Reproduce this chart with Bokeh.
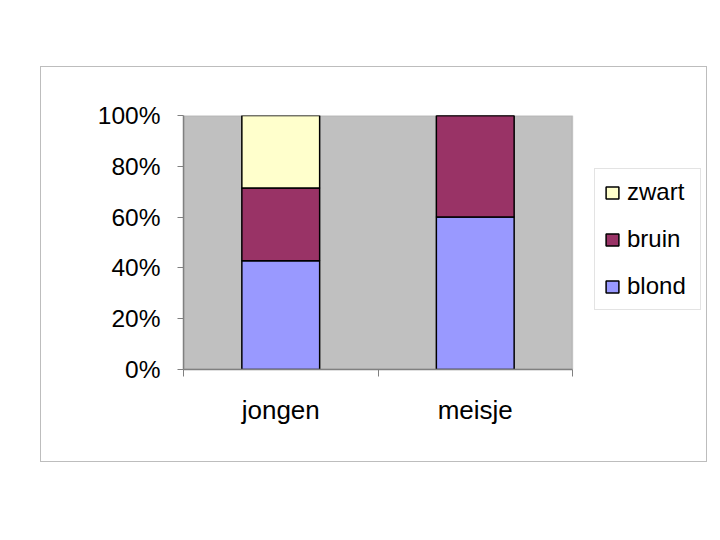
import numpy as np
from bokeh.plotting import figure
from bokeh.layouts import column
from bokeh.models import (Range1d, FixedTicker, LinearAxis, Legend, LegendItem,
                          NumeralTickFormatter, ColumnDataSource, BoxAnnotation)
from bokeh.embed import file_html
from bokeh.resources import INLINE

categories = ["jongen", "meisje"]
series = ["blond", "bruin", "zwart"]
blond = [3 / 7, 0.60]
bruin = [2 / 7, 0.40]
zwart = [2 / 7, 0.0]
colors = ["#9999FF", "#993366", "#FFFFCC"]
y_ticks = [0, 0.2, 0.4, 0.6, 0.8, 1.0]

n = len(categories)
xpos = [i + 0.5 for i in range(n)]
src = ColumnDataSource(dict(x=xpos, blond=blond, bruin=bruin, zwart=zwart))

FONT = "Liberation Sans"

# layout (pixels)
FIG_W, FIG_H = 665, 394
B_LEFT, B_RIGHT, B_TOP, B_BOTTOM = 142, 5, 48, 92
PLOT_PX = 389  # width of the grey plot area
frame_w = FIG_W - B_LEFT - B_RIGHT
x_end = n * frame_w / PLOT_PX

p = figure(width=FIG_W, height=FIG_H, output_backend="svg", toolbar_location=None,
           x_range=Range1d(0, x_end), y_range=Range1d(0, 1),
           min_border_left=B_LEFT, min_border_right=B_RIGHT,
           min_border_top=B_TOP, min_border_bottom=B_BOTTOM)
p.xaxis.visible = False
p.yaxis.visible = False
p.background_fill_color = "white"
p.border_fill_color = "white"
p.outline_line_color = None
p.xgrid.visible = False
p.ygrid.visible = False

area = BoxAnnotation(left=0, right=n, bottom=0, top=1, fill_color="#C0C0C0", fill_alpha=1.0,
                     line_color="#808080", line_width=1.5, level="underlay")
p.add_layout(area)

renderers = p.vbar_stack(series, x="x", width=0.4, source=src, color=colors,
                         line_color="black", line_width=1.5)

# y axis
yax = LinearAxis(ticker=FixedTicker(ticks=y_ticks),
                 formatter=NumeralTickFormatter(format="0%"))
yax.axis_line_color = "#808080"
yax.axis_line_width = 1.5
yax.major_tick_line_color = "#808080"
yax.major_tick_out = 6
yax.major_tick_in = 0
yax.minor_tick_line_color = None
yax.major_label_text_font = FONT
yax.major_label_text_font_size = "24.5px"
yax.major_label_text_color = "black"
yax.major_label_standoff = 17
p.add_layout(yax, "left")

# x axis with boundary ticks
xax = LinearAxis(ticker=FixedTicker(ticks=xpos, minor_ticks=list(range(n + 1))),
                 bounds=(0, n))
xax.major_label_overrides = {x: c for x, c in zip(xpos, categories)}
xax.axis_line_color = "#808080"
xax.axis_line_width = 1.5
xax.major_tick_line_color = None
xax.major_tick_out = 0
xax.major_tick_in = 0
xax.minor_tick_line_color = "#808080"
xax.minor_tick_out = 7
xax.minor_tick_in = 0
xax.major_label_text_font = FONT
xax.major_label_text_font_size = "26px"
xax.major_label_text_color = "black"
xax.major_label_standoff = 18
p.add_layout(xax, "below")

items = [LegendItem(label=s, renderers=[r]) for s, r in zip(series, renderers)][::-1]
legend = Legend(items=items, location=(411, 59))
legend.label_text_font = FONT
legend.label_text_font_size = "24px"
legend.label_text_color = "black"
legend.glyph_width = 16
legend.glyph_height = 15
legend.label_standoff = 7
legend.label_width = 64
legend.spacing = 19
legend.padding = 9
legend.margin = 0
legend.border_line_color = "#c8c8c8"
legend.border_line_width = 1
legend.background_fill_color = "white"
p.add_layout(legend, "center")

layout = column(p, styles={"border": "1px solid #bdbdbd"}, margin=(66, 0, 0, 40))

open("out.html", "w").write(file_html(layout, INLINE))
